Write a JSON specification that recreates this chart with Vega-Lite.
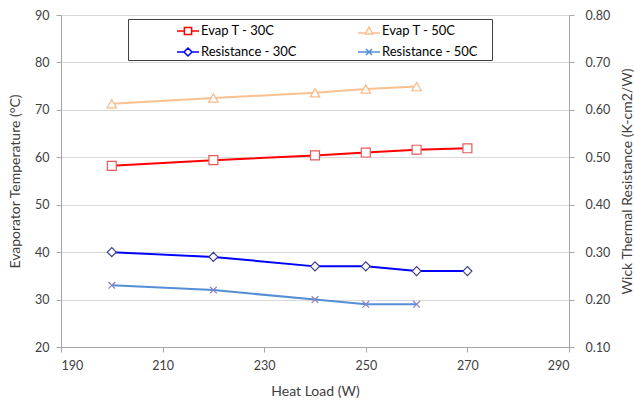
{
  "$schema": "https://vega.github.io/schema/vega-lite/v6.json",
  "width": 508,
  "height": 332,
  "autosize": "none",
  "padding": {"left": 61, "top": 15, "right": 65, "bottom": 58},
  "background": "white",
  "config": {
    "view": {"stroke": null},
    "font": "Lato",
    "axis": {
      "labelFont": "Lato", "labelFontSize": 12.5, "labelColor": "#404040",
      "titleFont": "Lato", "titleFontSize": 14, "titleColor": "#404040", "titleFontWeight": "normal",
      "domainColor": "#a6a6a6", "tickColor": "#a6a6a6", "tickSize": 5,
      "gridColor": "#d9d9d9"
    }
  },
  "data": {
    "values": [
      {"series": "Evap T - 30C", "load": 200, "value": 58.2},
      {"series": "Evap T - 30C", "load": 220, "value": 59.4},
      {"series": "Evap T - 30C", "load": 240, "value": 60.4},
      {"series": "Evap T - 30C", "load": 250, "value": 61.0},
      {"series": "Evap T - 30C", "load": 260, "value": 61.6},
      {"series": "Evap T - 30C", "load": 270, "value": 61.9},
      {"series": "Evap T - 50C", "load": 200, "value": 71.3},
      {"series": "Evap T - 50C", "load": 220, "value": 72.5},
      {"series": "Evap T - 50C", "load": 240, "value": 73.6},
      {"series": "Evap T - 50C", "load": 250, "value": 74.4},
      {"series": "Evap T - 50C", "load": 260, "value": 74.9},
      {"series": "Resistance - 30C", "load": 200, "value": 0.30},
      {"series": "Resistance - 30C", "load": 220, "value": 0.29},
      {"series": "Resistance - 30C", "load": 240, "value": 0.27},
      {"series": "Resistance - 30C", "load": 250, "value": 0.27},
      {"series": "Resistance - 30C", "load": 260, "value": 0.26},
      {"series": "Resistance - 30C", "load": 270, "value": 0.26},
      {"series": "Resistance - 50C", "load": 200, "value": 0.23},
      {"series": "Resistance - 50C", "load": 220, "value": 0.22},
      {"series": "Resistance - 50C", "load": 240, "value": 0.20},
      {"series": "Resistance - 50C", "load": 250, "value": 0.19},
      {"series": "Resistance - 50C", "load": 260, "value": 0.19}
    ]
  },
  "encoding": {
    "x": {
      "field": "load", "type": "quantitative",
      "scale": {"domain": [190, 290], "nice": false, "zero": false},
      "axis": {"title": "Heat Load (W)", "values": [190, 210, 230, 250, 270, 290], "grid": false, "labelPadding": 7, "titlePadding": 13}
    }
  },
  "layer": [
    {
      "transform": [{"filter": "indexof(datum.series, 'Evap') == 0"}],
      "encoding": {
        "y": {
          "field": "value", "type": "quantitative",
          "scale": {"domain": [20, 90], "nice": false, "zero": false},
          "axis": {"title": "Evaporator Temperature (°C)", "orient": "left", "values": [20, 30, 40, 50, 60, 70, 80, 90], "grid": true, "labelPadding": 7, "titlePadding": 12}
        }
      },
      "layer": [
        {
          "mark": {"type": "line", "strokeWidth": 2},
          "encoding": {
            "color": {
              "field": "series", "type": "nominal",
              "scale": {"domain": ["Evap T - 30C", "Resistance - 30C", "Evap T - 50C", "Resistance - 50C"], "range": ["#ff0000", "#0000ff", "#fac090", "#558ed5"]},
              "legend": {
                "orient": "none", "legendX": 67, "legendY": 4, "columns": 2,
                "strokeColor": "#404040", "padding": 1, "symbolSize": 400, "symbolOffset": 48,
                "columnPadding": 13, "rowPadding": 3, "labelOffset": 2,
                "labelFont": "Lato", "labelFontSize": 13, "labelColor": "#000000", "labelLimit": 200,
                "title": "\u00a0", "titleOrient": "right", "titlePadding": 13,
                "encode": {
                  "symbols": {
                    "update": {
                      "shape": {"signal": "datum.value == 'Evap T - 30C' ? 'M-1.1,0H-0.36M0.36,0H1.1M-0.36,-0.36H0.36V0.36H-0.36Z' : datum.value == 'Evap T - 50C' ? 'M-1.1,0.2H-0.3M0.3,0.2H1.1M0,-0.4L0.38,0.3H-0.38Z' : datum.value == 'Resistance - 30C' ? 'M-1.1,0H-0.4M0.4,0H1.1M0,-0.4L0.4,0L0,0.4L-0.4,0Z' : 'M-1.1,0H1.1M-0.3,-0.3L0.3,0.3M-0.3,0.3L0.3,-0.3'"},
                      "fill": {"value": "white"},
                      "strokeWidth": {"value": 1.5}
                    }
                  }
                }
              }
            }
          }
        },
        {
          "transform": [{"filter": "datum.series == 'Evap T - 30C'"}],
          "mark": {"type": "point", "shape": "square", "filled": true, "fill": "white", "stroke": "#e85a5a", "size": 80, "strokeWidth": 1.2, "opacity": 1}
        },
        {
          "transform": [{"filter": "datum.series == 'Evap T - 50C'"}],
          "mark": {"type": "point", "shape": "triangle-up", "filled": true, "fill": "white", "stroke": "#f8b988", "size": 90, "strokeWidth": 1.2, "opacity": 1}
        }
      ]
    },
    {
      "transform": [{"filter": "indexof(datum.series, 'Resistance') == 0"}],
      "encoding": {
        "y": {
          "field": "value", "type": "quantitative",
          "scale": {"domain": [0.1, 0.8], "nice": false, "zero": false},
          "axis": {"title": "Wick Thermal Resistance (K-cm2/W)", "orient": "right", "values": [0.1, 0.2, 0.3, 0.4, 0.5, 0.6, 0.7, 0.8], "format": ".2f", "grid": false, "labelPadding": 11, "titleAngle": 270, "titleX": 58, "titleY": 166, "titleAlign": "center", "titleBaseline": "middle"}
        }
      },
      "layer": [
        {
          "mark": {"type": "line", "strokeWidth": 2},
          "encoding": {
            "color": {"field": "series", "type": "nominal"}
          }
        },
        {
          "transform": [{"filter": "datum.series == 'Resistance - 30C'"}],
          "mark": {"type": "point", "shape": "diamond", "filled": true, "fill": "white", "stroke": "#3c3c8c", "size": 80, "strokeWidth": 1.2, "opacity": 1}
        },
        {
          "transform": [{"filter": "datum.series == 'Resistance - 50C'"}],
          "mark": {"type": "point", "shape": "M-0.8,-0.8L0.8,0.8M-0.8,0.8L0.8,-0.8", "filled": false, "stroke": "#8f7fbf", "size": 70, "strokeWidth": 1.2, "opacity": 1}
        }
      ]
    }
  ],
  "resolve": {"scale": {"y": "independent"}}
}
